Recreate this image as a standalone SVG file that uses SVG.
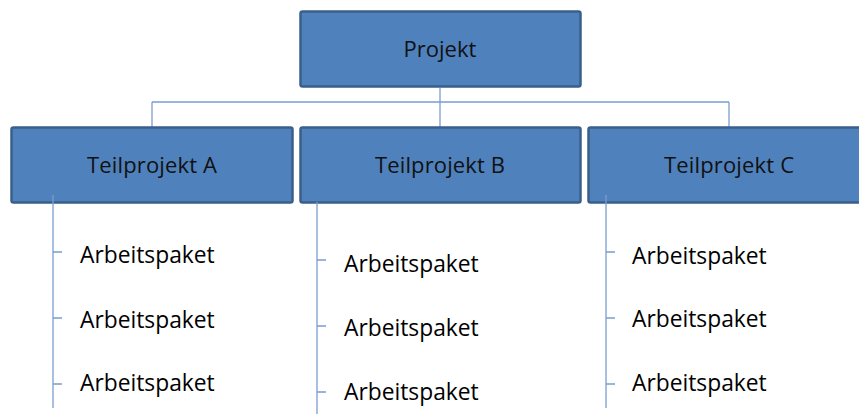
<svg xmlns="http://www.w3.org/2000/svg" width="859" height="414" viewBox="0 0 859 414">
<style>
.box{fill:#4F81BD;stroke:#3A5F8B;stroke-width:2.5}
.lbl{font-family:"Open Sans","Liberation Sans",sans-serif;font-size:22px;fill:#111;text-anchor:middle}
.ap{font-family:"Open Sans","Liberation Sans",sans-serif;font-size:22.8px;fill:#000}
.ln{stroke:#7A9DD0;stroke-width:1.3;fill:none}
</style>
<rect width="859" height="414" fill="#fff"/>
<g id="connectors">
<path class="ln" d="M440 88V127M152 102H729M152 102V127M729 102V127"/>
</g>
<g id="projekt"><rect class="box" x="300.5" y="11.5" width="280" height="75" rx="2"/><text class="lbl" x="440" y="57">Projekt</text></g>
<g id="teilA"><rect class="box" x="11.5" y="127.5" width="281" height="75" rx="2"/><text class="lbl" x="152" y="173" textLength="130">Teilprojekt A</text></g>
<g id="teilB"><rect class="box" x="300.5" y="127.5" width="280" height="75" rx="2"/><text class="lbl" x="440" y="173" textLength="130">Teilprojekt B</text></g>
<g id="teilC"><rect class="box" x="588.5" y="127.5" width="281" height="75" rx="2"/><text class="lbl" x="729" y="173" textLength="130">Teilprojekt C</text></g>
<g id="connectors-ap">
<path class="ln" d="M53 195V408M53 252H62M53 318H62M53 384H62"/>
<path class="ln" d="M317 202V414M317 260H326M317 326H326M317 392H326"/>
<path class="ln" d="M606 195V408M606 252H615M606 318H615M606 384H615"/>
</g>
<g id="apA"><text class="ap" x="80" y="263">Arbeitspaket</text><text class="ap" x="80" y="328">Arbeitspaket</text><text class="ap" x="80" y="391">Arbeitspaket</text></g>
<g id="apB"><text class="ap" x="344" y="272">Arbeitspaket</text><text class="ap" x="344" y="336">Arbeitspaket</text><text class="ap" x="344" y="400">Arbeitspaket</text></g>
<g id="apC"><text class="ap" x="632" y="264">Arbeitspaket</text><text class="ap" x="632" y="327">Arbeitspaket</text><text class="ap" x="632" y="391">Arbeitspaket</text></g>
</svg>
